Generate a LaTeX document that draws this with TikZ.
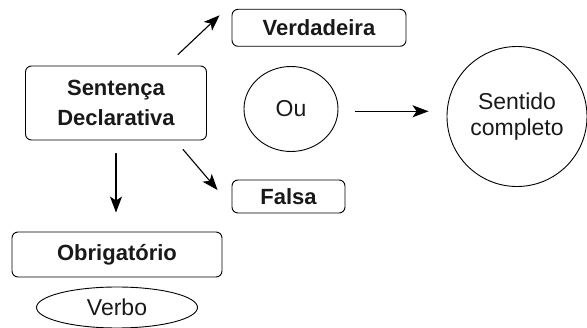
\documentclass[tikz,border=0pt]{standalone}
\usepackage{fontspec}
\setmainfont{Liberation Sans}
\usetikzlibrary{shapes.geometric,arrows.meta}
\begin{document}
\begin{tikzpicture}[x=1pt,y=-1pt,>={Stealth[length=16pt,width=12pt,inset=4pt]}, line join=round, line cap=round,
	caixa/.style={draw,rounded corners=6pt,line width=.9pt,inner sep=0pt,align=center,text=black!90,font=\fontsize{22}{30}\selectfont\bfseries},
	bolha/.style={draw,ellipse,line width=.9pt,inner sep=0pt,align=center,text=black!90,font=\fontsize{23}{26}\selectfont},
	seta/.style={->,line width=1.1pt}]
	\useasboundingbox (0,0) rectangle (587,328);
	%Caixas
	\node[caixa,minimum width=181pt,minimum height=74pt] (sent) at (116,103) {Sentença\\Declarativa};
	\node[caixa,minimum width=174pt,minimum height=37pt] (verd) at (319,27.8) {Verdadeira};
	\node[caixa,minimum width=113pt,minimum height=33pt] (falsa) at (288.5,196.5) {Falsa};
	\node[caixa,minimum width=210pt,minimum height=45pt] (obrig) at (117,254.5) {Obrigatório};
	%Elipses
	\node[bolha,minimum width=94pt,minimum height=85pt] (ou) at (291,109) {Ou};
	\node[bolha,circle,minimum size=140pt] (sentido) at (517,116.5) {Sentido\\completo};
	\node[bolha,minimum width=161pt,minimum height=41pt] (verbo) at (117,307.5) {Verbo};
	%Setas
	\draw[seta] ([xshift=62pt,yshift=11pt]sent.north) -- ([xshift=-12pt,yshift=12.5pt]verd.west);
	\draw[seta] ([xshift=67pt,yshift=-9pt]sent.south) -- ([xshift=-14pt,yshift=6.5pt]falsa.west);
	\draw[seta,shorten <=13pt,shorten >=19pt] (sent.south) -- (sent.south |- obrig.north);
	\draw[seta,shorten <=17pt,shorten >=18pt] ([yshift=-2.3pt]ou.east) -- ([yshift=-2.3pt]ou.east -| sentido.west);
\end{tikzpicture}
\end{document}
